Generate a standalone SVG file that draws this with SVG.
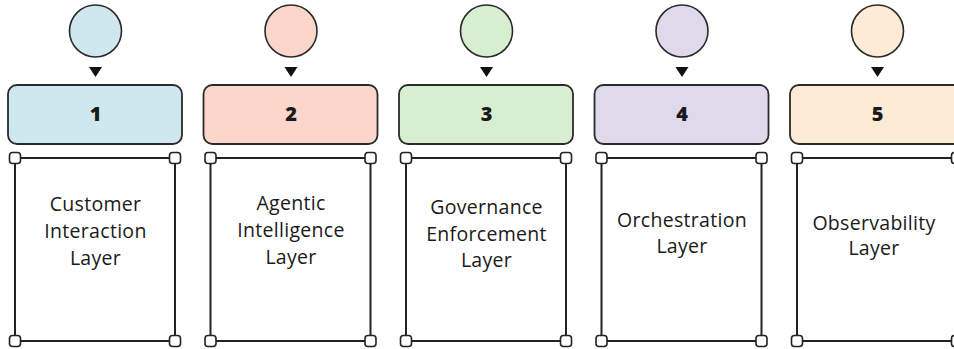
<svg xmlns="http://www.w3.org/2000/svg" width="954" height="349" viewBox="0 0 954 349">
  <style>
    .dot { stroke: #2a2a2a; stroke-width: 1.6; }
    .head { stroke: #2a2a2a; stroke-width: 1.8; }
    .num { font-family: "Open Sans", "Liberation Sans", sans-serif; font-weight: 800; font-size: 20px; fill: #1a1a1a; text-anchor: middle; }
    .frame { fill: #ffffff; stroke: #222222; stroke-width: 2; }
    .handle { fill: #ffffff; stroke: #222222; stroke-width: 1.6; }
    .label { font-family: "Open Sans", "Liberation Sans", sans-serif; font-size: 19.5px; letter-spacing: 0.3px; fill: #1a1a1a; text-anchor: middle; }
    .arrow { fill: #111111; }
  </style>
  <defs>
    <!-- corner handles + frame shared by every layer card -->
    <g id="card">
      <rect class="frame" x="15" y="158" width="160" height="183"/>
      <rect class="handle" x="9.5" y="152.5" width="11" height="11" rx="3"/>
      <rect class="handle" x="169.5" y="152.5" width="11" height="11" rx="3"/>
      <rect class="handle" x="9.5" y="335.5" width="11" height="11" rx="3"/>
      <rect class="handle" x="169.5" y="335.5" width="11" height="11" rx="3"/>
    </g>
  </defs>

  <!-- connectors: small arrowheads from each circle to its header -->
  <g id="connectors">
    <polygon class="arrow" points="89,67 102,67 95.5,77"/>
    <polygon class="arrow" points="284.5,67 297.5,67 291,77"/>
    <polygon class="arrow" points="480,67 493,67 486.5,77"/>
    <polygon class="arrow" points="675.5,67 688.5,67 682,77"/>
    <polygon class="arrow" points="871,67 884,67 877.5,77"/>
  </g>

  <g id="layer-1">
    <circle class="dot" cx="95.5" cy="31" r="26" fill="#cfe7ee"/>
    <rect class="head" x="8" y="85" width="174" height="59" rx="9" fill="#cfe7ee"/>
    <text class="num" x="95.5" y="120.5">1</text>
    <use href="#card"/>
    <text class="label" x="95.5" y="211">Customer</text>
    <text class="label" x="95.5" y="238">Interaction</text>
    <text class="label" x="95.5" y="265">Layer</text>
  </g>

  <g id="layer-2">
    <circle class="dot" cx="291" cy="31" r="26" fill="#fcd6ca"/>
    <rect class="head" x="203.5" y="85" width="174" height="59" rx="9" fill="#fcd6ca"/>
    <text class="num" x="291" y="120.5">2</text>
    <use href="#card" transform="translate(195.5,0)"/>
    <text class="label" x="291" y="210">Agentic</text>
    <text class="label" x="291" y="237">Intelligence</text>
    <text class="label" x="291" y="264">Layer</text>
  </g>

  <g id="layer-3">
    <circle class="dot" cx="486.5" cy="31" r="26" fill="#d7efd0"/>
    <rect class="head" x="399" y="85" width="174" height="59" rx="9" fill="#d7efd0"/>
    <text class="num" x="486.5" y="120.5">3</text>
    <use href="#card" transform="translate(391,0)"/>
    <text class="label" x="486.5" y="213.5">Governance</text>
    <text class="label" x="486.5" y="240.5">Enforcement</text>
    <text class="label" x="486.5" y="267">Layer</text>
  </g>

  <g id="layer-4">
    <circle class="dot" cx="682" cy="31" r="26" fill="#dedaeb"/>
    <rect class="head" x="594.5" y="85" width="174" height="59" rx="9" fill="#dedaeb"/>
    <text class="num" x="682" y="120.5">4</text>
    <use href="#card" transform="translate(586.5,0)"/>
    <text class="label" x="682" y="226.5">Orchestration</text>
    <text class="label" x="682" y="252.5">Layer</text>
  </g>

  <g id="layer-5">
    <circle class="dot" cx="877.5" cy="31" r="26" fill="#fdebd6"/>
    <rect class="head" x="790" y="85" width="174" height="59" rx="9" fill="#fdebd6"/>
    <text class="num" x="877.5" y="120.5">5</text>
    <use href="#card" transform="translate(782,0)"/>
    <text class="label" x="874" y="229.5">Observability</text>
    <text class="label" x="874" y="255">Layer</text>
  </g>
</svg>
